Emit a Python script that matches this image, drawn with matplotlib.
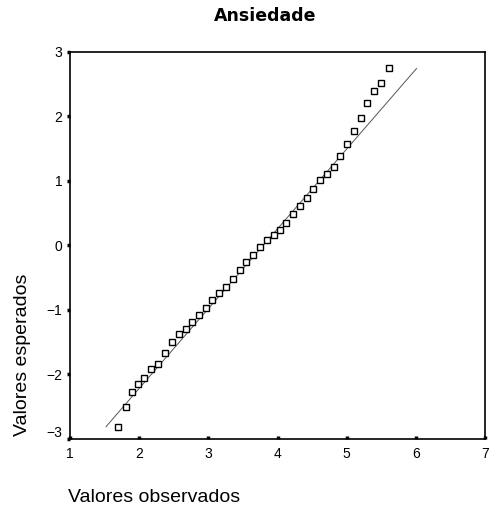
import matplotlib
matplotlib.use("Agg")
import matplotlib.pyplot as plt
from matplotlib.transforms import ScaledTranslation

# Observed values (x) and expected normal values (y)
observed = [1.70, 1.81, 1.90, 1.98, 2.07, 2.17, 2.27, 2.37, 2.47, 2.57,
            2.67, 2.77, 2.86, 2.96, 3.06, 3.16, 3.25, 3.36, 3.46, 3.55,
            3.65, 3.75, 3.85, 3.95, 4.03, 4.12, 4.22, 4.32, 4.42, 4.52,
            4.61, 4.71, 4.81, 4.91, 5.01, 5.10, 5.20, 5.29, 5.39, 5.49, 5.61]
expected = [-2.81, -2.50, -2.27, -2.15, -2.05, -1.92, -1.84, -1.67, -1.49, -1.38,
            -1.29, -1.18, -1.08, -0.97, -0.84, -0.74, -0.65, -0.52, -0.38, -0.26,
            -0.15, -0.02, 0.08, 0.16, 0.24, 0.35, 0.48, 0.61, 0.74, 0.87,
            1.02, 1.11, 1.22, 1.39, 1.57, 1.77, 1.97, 2.20, 2.39, 2.51, 2.74]

# Reference line endpoints
line_x = [1.52, 6.01]
line_y = [-2.81, 2.74]

xticks = [1, 2, 3, 4, 5, 6, 7]
yticks = [-3, -2, -1, 0, 1, 2, 3]
yticklabels = ["\u22123", "\u22122", "\u22121", "0", "1", "2", "3"]

title = "Ansiedade"
xlabel = "Valores observados"
ylabel = "Valores esperados"

plt.rcParams['font.family'] = ['Liberation Sans', 'DejaVu Sans']

fig = plt.figure(figsize=(4.91, 5.16), dpi=100)
ax = fig.add_axes([70 / 491, 1 - 439 / 516, (485 - 70) / 491, (439 - 51.7) / 516])

ax.plot(line_x, line_y, color='#555555', lw=0.7, zorder=2)
ax.plot(observed, expected, linestyle='none', marker='s', markersize=4.6,
        markerfacecolor='white', markeredgecolor='black', markeredgewidth=1.0, zorder=3)

ax.set_xlim(1, 7)
ax.set_ylim(-3, 3)
ax.set_xticks(xticks)
ax.set_yticks(yticks)
ax.set_xticklabels([str(t) for t in xticks], fontsize=10)
ax.set_yticklabels(yticklabels, fontsize=10)
ax.tick_params(axis='x', direction='in', length=2.5, width=2.5, colors='black', pad=6)
ax.tick_params(axis='y', direction='out', length=2.5, width=2.5, colors='black', pad=3)

# lift the lowest y label slightly, as in the reference
lab = ax.get_yticklabels()[0]
lab.set_transform(lab.get_transform() + ScaledTranslation(0, 7 / 100, fig.dpi_scale_trans))

for s in ax.spines.values():
    s.set_linewidth(1.2)
    s.set_color('black')

fig.text(265 / 491, 1 - 16 / 516, title, fontsize=12.5, fontweight='bold',
         family='DejaVu Sans', ha='center', va='center')
fig.text(68 / 491, 1 - 497 / 516, xlabel, fontsize=14, ha='left', va='center')
fig.text(23 / 491, 1 - 355 / 516, ylabel, fontsize=14, rotation=90, ha='center', va='center')

fig.savefig("out.png", dpi=100)
